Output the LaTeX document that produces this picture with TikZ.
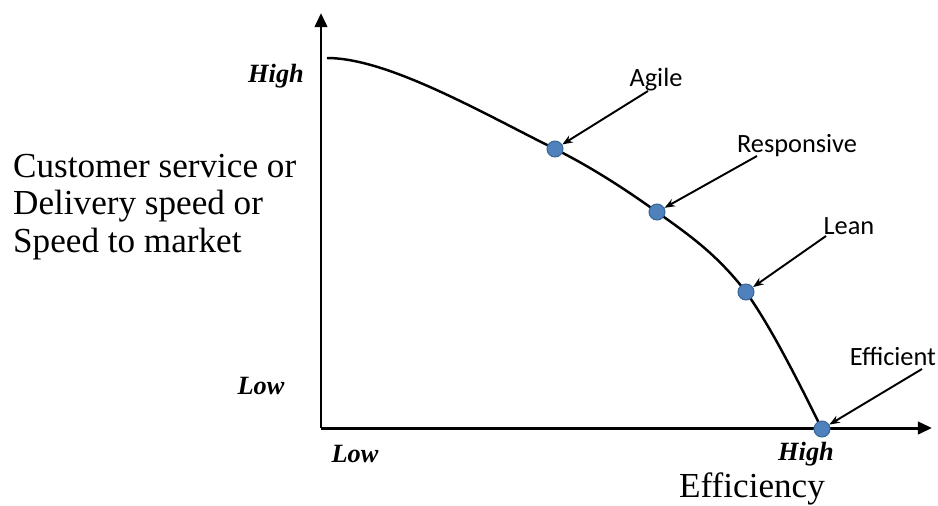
\documentclass[tikz,border=0pt]{standalone}
\usepackage{fontspec}
\setmainfont{Liberation Serif}
\newfontfamily\labelfont{Carlito}
\usetikzlibrary{arrows.meta}
\definecolor{dotBlue}{HTML}{4F81BD}
\definecolor{dotEdge}{HTML}{3A6799}
\tikzset{
  axislbl/.style={font=\bfseries\itshape\fontsize{15}{18}\selectfont},
  ptlbl/.style={font=\labelfont\fontsize{15}{18}\selectfont},
}

\begin{document}
\begin{tikzpicture}[x=0.02cm, y=-0.02cm,
  dot/.style={circle, fill=dotBlue, draw=dotEdge, line width=0.6pt, minimum size=0.32cm, inner sep=0pt},
  axis/.style={line width=1.7pt, -{Triangle[length=8pt,width=7pt]}},
  ptr/.style={line width=1.1pt, -{Stealth[length=6pt,width=4.5pt]}},
  title/.style={font=\fontsize{20}{21.5}\selectfont}]
  \useasboundingbox (0,0) rectangle (938,505);
  % axes
  \coordinate (orig) at (321,428);
  \coordinate (ytop) at (321,13);
  \coordinate (xend) at (932,428);
  \draw[axis] (orig) -- (ytop);
  \draw[axis] (orig) -- (xend);
  % frontier
  \coordinate (pstart) at (327,58);
  \coordinate (pagile) at (555,149);
  \coordinate (presp)  at (657,212);
  \coordinate (plean)  at (746,292);
  \coordinate (peffi)  at (822,429);
  \draw[line width=1.4pt] (pstart)
    .. controls +(60,0) and +(-76,-38) .. (pagile)
    .. controls +(34,17) and +(-34,-24.5) .. (presp)
    .. controls +(30,21.6) and +(-30,-39) .. (plean)
    .. controls +(25,35) and +(-25,-50) .. (peffi);
  \node[dot] (agile) at (pagile) {};
  \node[dot] (resp)  at (presp)  {};
  \node[dot] (lean)  at (plean)  {};
  \node[dot] (effi)  at (peffi)  {};
  % point labels
  \node[ptlbl] (lagile) at (656,80)  {Agile};
  \node[ptlbl] (lresp)  at (797,146) {Responsive};
  \node[ptlbl] (llean)  at (849,226) {Lean};
  \node[ptlbl] (leffi)  at (893,356) {Efficient};
  \coordinate (sagile) at (648,91);
  \coordinate (sresp)  at (757,156);
  \coordinate (slean)  at (826,236);
  \coordinate (seffi)  at (922,369);
  \draw[ptr] (sagile) -- (agile);
  \draw[ptr] (sresp)  -- (resp);
  \draw[ptr] (slean)  -- (lean);
  \draw[ptr] (seffi)  -- (effi);
  % axis labels
  \node[axislbl] (yhigh) at (276,76)  {High};
  \node[axislbl] (ylow)  at (261,386) {Low};
  \node[axislbl] (xlow)  at (355,454) {Low};
  \node[axislbl] (xhigh) at (806,454) {High};
  \node[title] (xtitle) at (752,489) {Efficiency};
  \node[title, anchor=west, align=left] (ytitle) at (7,207)
    {Customer service or\\ Delivery speed or\\ Speed to market};
\end{tikzpicture}
\end{document}
